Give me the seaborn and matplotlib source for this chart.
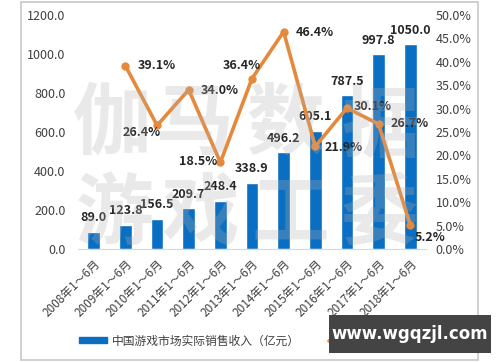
import numpy as np
import matplotlib
matplotlib.use("Agg")
import matplotlib.pyplot as plt
import seaborn as sns
from matplotlib.patches import Rectangle, Patch
from matplotlib.lines import Line2D

sns.set_style("white")
plt.rcParams['font.family'] = ['Noto Sans CJK SC', 'DejaVu Sans']

# data
periods = ["2008年1～6月", "2009年1～6月", "2010年1～6月", "2011年1～6月",
           "2012年1～6月", "2013年1～6月", "2014年1～6月", "2015年1～6月",
           "2016年1～6月", "2017年1～6月", "2018年1～6月"]
revenue = [89.0, 123.8, 156.5, 209.7, 248.4, 338.9, 496.2, 605.1, 787.5, 997.8, 1050.0]
growth = [39.1, 26.4, 34.0, 18.5, 36.4, 46.4, 21.9, 30.1, 26.7, 5.2]  # 2009 .. 2018
bar_name = "中国游戏市场实际销售收入（亿元）"
line_name = "同比增长率"

# pixel offsets for the growth labels (layout only)
pct_offsets = [(12, 0), (-34, -7), (12, -1), (-41, 1), (-29, 13),
               (12, -1), (9, -1), (7, 2), (12, 0), (5, -13)]

blue = "#0a6ec2"
orange = "#e5893d"

fig = plt.figure(figsize=(5, 3.62), dpi=100)
ax = fig.add_axes([0.156, 0.312, 0.696, 0.647])

sns.barplot(x=list(range(len(periods))), y=revenue, ax=ax, color=blue,
            width=0.4, saturation=1, native_scale=True)
ax.set_xlim(-0.5, len(periods) - 0.5)
ax.set_ylim(0, 1200)
ax.set_yticks(np.arange(0, 1201, 200))
ax.set_yticklabels([f"{v:.1f}" for v in np.arange(0, 1201, 200)], fontsize=9, color="#404040")
ax.set_xticks(range(len(periods)))
ax.set_xticklabels(periods, rotation=45, ha="right", rotation_mode="anchor",
                   fontsize=8.5, color="#404040")
ax.tick_params(axis="both", length=0)
ax.tick_params(axis="y", pad=9)
ax.tick_params(axis="x", pad=6)
for s in ["top", "left", "right"]:
    ax.spines[s].set_visible(False)
ax.spines["bottom"].set_color("#d9d9d9")
ax.set_xlabel("")
ax.set_ylabel("")

for i, v in enumerate(revenue):
    ax.annotate(f"{v:.1f}", (i, v), xytext=(0, 14), textcoords="offset pixels",
                ha="center", va="center", fontsize=9, fontweight="bold", color="#262626")

ax2 = ax.twinx()
xs = list(range(1, len(periods)))
sns.lineplot(x=xs, y=growth, ax=ax2, color=orange, linewidth=2.6,
             marker="o", markersize=6, markeredgewidth=0)
ax2.set_ylim(0, 50)
ax2.set_yticks(np.arange(0, 51, 5))
ax2.set_yticklabels([f"{v:.1f}%" for v in np.arange(0, 51, 5)], fontsize=9, color="#404040")
ax2.tick_params(axis="y", length=0, pad=7)
for s in ["top", "left", "right", "bottom"]:
    ax2.spines[s].set_visible(False)
ax2.set_ylabel("")

for x, g, (dx, dy) in zip(xs, growth, pct_offsets):
    ax2.annotate(f"{g:.1f}%", (x, g), xytext=(dx, dy), textcoords="offset pixels",
                 ha="left", va="center", fontsize=9, fontweight="bold", color="#262626")

# faint background watermark characters
for ch, (cx, cy) in zip("伽马数据游戏工委",
                        [(112, 125), (195, 125), (285, 125), (380, 128),
                         (115, 215), (200, 215), (290, 215), (380, 215)]):
    fig.text(cx / 500, 1 - cy / 362, ch, fontsize=56, fontweight="bold",
             color="#b0b0b0", alpha=0.28, ha="center", va="center", zorder=5)

handles = [Patch(color=blue),
           Line2D([0], [0], color=orange, lw=2.6, marker="o", markersize=6)]
fig.legend(handles, [bar_name, line_name], loc="center", bbox_to_anchor=(0.5, 0.058),
           ncol=2, frameon=False, fontsize=8.5, handlelength=2.4, handleheight=0.45,
           columnspacing=2.5, handletextpad=0.4, labelcolor="#404040")

# outer frame
fig.add_artist(Rectangle((21 / 500, 2 / 362), 457 / 500, 358 / 362, transform=fig.transFigure,
                         fill=False, edgecolor="#c8c8c8", lw=1.2))

# site watermark box
fig.add_artist(Rectangle((329 / 500, 9 / 362), 162 / 500, 38 / 362, transform=fig.transFigure,
                         facecolor="#444444", edgecolor="none", zorder=10))
fig.text(410 / 500, 28 / 362, "www.wgqzjl.com", color="white", fontsize=12,
         fontweight="bold", ha="center", va="center", zorder=11, family="DejaVu Sans")

fig.savefig("out.png", dpi=100)
